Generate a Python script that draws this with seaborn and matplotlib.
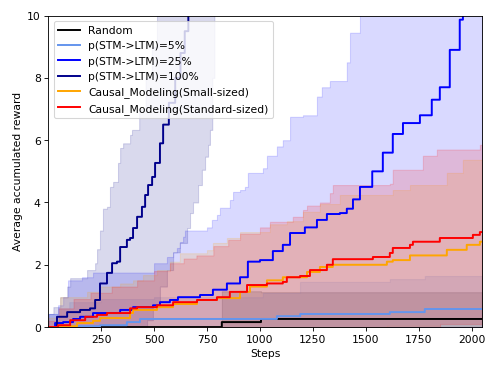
import numpy as np
import pandas as pd
import matplotlib
matplotlib.use("Agg")
import matplotlib.pyplot as plt
import seaborn as sns

# step values (step index, value)
random_x = [1, 820, 1005]
random_mean = [0, 0.16, 0.26]
random_low = [0, 0, 0]
random_up = [0, 1.15, 1.12]

p5_x = [1, 60, 245, 372, 434, 1080, 1190, 1613, 1778]
p5_mean = [0, 0.03, 0.06, 0.16, 0.26, 0.35, 0.42, 0.48, 0.58]
p5_up_x = [1, 47, 100, 250, 500, 906, 1014, 1189, 1613, 1778]
p5_up = [0.42, 0.6, 0.8, 0.9, 0.96, 0.96, 1.1, 1.45, 1.54, 1.64]

p25_x = [1, 33, 71, 118, 151, 212, 340, 401, 495, 528, 575, 613, 717, 778, 844,
         906, 943, 1000, 1061, 1108, 1142, 1212, 1269, 1316, 1377, 1410, 1439,
         1472, 1530, 1580, 1627, 1675, 1755, 1811, 1849, 1896, 1943, 1958]
p25_mean = [0, 0.13, 0.16, 0.26, 0.33, 0.45, 0.55, 0.64, 0.7, 0.8, 0.87, 0.96,
            1.03, 1.2, 1.4, 1.6, 2.1, 2.15, 2.44, 2.64, 3.02, 3.2, 3.44, 3.63,
            3.66, 3.8, 4.1, 4.5, 5.0, 5.6, 6.2, 6.55, 6.8, 7.3, 7.7, 8.9, 9.87, 10.5]
p25_up_x = [1, 47, 71, 94, 160, 212, 500, 561, 590, 608, 622, 637, 646, 750, 773,
            797, 811, 858, 873, 906, 929, 943, 1014, 1033, 1080, 1108, 1142, 1203,
            1269, 1292, 1330, 1410, 1425, 1472]
p25_up = [0.42, 0.7, 0.96, 1.5, 1.6, 1.75, 2.05, 2.25, 2.4, 2.54, 2.73, 2.9, 3.1,
          3.2, 3.44, 3.6, 3.83, 4.08, 4.34, 4.4, 4.5, 4.95, 5.1, 5.5, 5.8, 6.0,
          6.75, 6.8, 7.4, 7.7, 7.9, 8.5, 9.45, 10.5]

p100_x = [1, 42, 90, 151, 198, 222, 245, 278, 302, 325, 340, 372, 387, 401, 420,
          443, 458, 472, 491, 505, 528, 543, 570, 600, 625, 645, 662]
p100_mean = [0, 0.33, 0.48, 0.55, 0.6, 0.87, 1.4, 1.74, 2.05, 2.1, 2.57, 2.8, 2.86,
             3.18, 3.54, 3.86, 4.24, 4.56, 4.82, 5.27, 5.9, 6.5, 7.2, 8.0, 8.8,
             9.5, 10.5]
p100_up_x = [1, 25, 57, 90, 104, 160, 184, 222, 231, 245, 259, 278, 292, 307, 330,
             340, 354, 387, 396, 430, 460, 490, 514]
p100_up = [0.42, 0.64, 0.96, 1.3, 1.57, 1.57, 1.83, 2.05, 2.5, 3.1, 3.8, 3.86, 4.5,
           4.66, 5.27, 5.75, 5.9, 6.17, 6.33, 7.0, 8.0, 9.0, 10.5]
p100_low_x = [1, 434, 467, 495, 528, 561, 590, 622, 656, 670, 684, 708, 726, 741,
              755, 764, 775, 785]
p100_low = [0, 0, 0.22, 0.64, 1.3, 1.83, 2.4, 2.7, 3.18, 3.66, 4.0, 4.56, 5.05,
            5.47, 5.85, 6.33, 8.0, 10.5]

small_x = [1, 57, 137, 212, 245, 387, 401, 514, 590, 703, 797, 906, 953, 1033,
           1108, 1222, 1283, 1344, 1599, 1627, 1708, 1882, 1976, 2038]
small_mean = [0, 0.03, 0.13, 0.2, 0.29, 0.45, 0.55, 0.64, 0.74, 0.87, 0.93, 1.13,
              1.3, 1.5, 1.6, 1.77, 1.93, 2.0, 2.1, 2.15, 2.3, 2.48, 2.64, 2.74]
small_up_x = [1, 57, 184, 245, 340, 401, 448, 514, 575, 622, 750, 778, 844, 906,
              1047, 1127, 1203, 1283, 1377, 1627, 1708, 1882, 1958]
small_up = [0.3, 0.96, 1.13, 1.3, 1.4, 1.5, 1.67, 1.83, 2.1, 2.37, 2.47, 2.7, 2.86,
            3.05, 3.3, 3.4, 3.7, 3.95, 4.24, 4.4, 4.56, 4.95, 5.37]
small_low_x = [1, 1600]
small_low = [0, 0.04]

std_x = [1, 47, 104, 175, 231, 278, 387, 420, 514, 590, 703, 797, 858, 939, 1033,
         1108, 1127, 1189, 1236, 1316, 1344, 1533, 1613, 1627, 1708, 1722, 1849,
         2005, 2038]
std_mean = [0, 0.06, 0.22, 0.33, 0.39, 0.45, 0.6, 0.64, 0.7, 0.8, 0.87, 0.96, 1.13,
            1.35, 1.4, 1.45, 1.6, 1.64, 1.83, 2.0, 2.18, 2.25, 2.38, 2.54, 2.64,
            2.74, 2.86, 2.96, 3.05]
std_up_x = [1, 50, 120, 200, 300, 420, 500, 575, 640, 700, 780, 850, 906, 1000,
            1047, 1155, 1203, 1222, 1283, 1330, 1344, 1613, 1627, 1769, 1835, 2038]
std_up = [0.2, 0.6, 0.9, 1.1, 1.3, 1.5, 1.8, 2.05, 2.2, 2.3, 2.6, 2.8, 3.0, 3.2,
          3.38, 3.54, 3.76, 3.9, 4.0, 4.3, 4.56, 4.6, 5.05, 5.5, 5.7, 5.85]
std_low_x = [1, 1850]
std_low = [0, 0.1]

last_step = 2048


def on_grid(xs, ys, grid):
    # step-post lookup of the read values on a common step grid
    idx = np.searchsorted(np.array(xs), grid, side="right") - 1
    return np.array(ys)[np.clip(idx, 0, None)]


grid = np.arange(1, last_step + 1)
zero = np.zeros(len(grid))

series = [
    ("Random", "black", random_x, random_mean, (random_x, random_low), (random_x, random_up)),
    ("p(STM->LTM)=5%", "cornflowerblue", p5_x, p5_mean, None, (p5_up_x, p5_up)),
    ("p(STM->LTM)=25%", "blue", p25_x, p25_mean, None, (p25_up_x, p25_up)),
    ("p(STM->LTM)=100%", "darkblue", p100_x, p100_mean, (p100_low_x, p100_low), (p100_up_x, p100_up)),
    ("Causal_Modeling(Small-sized)", "orange", small_x, small_mean, (small_low_x, small_low), (small_up_x, small_up)),
    ("Causal_Modeling(Standard-sized)", "red", std_x, std_mean, (std_low_x, std_low), (std_up_x, std_up)),
]

fig, ax = plt.subplots(figsize=(6.4, 4.8), dpi=77.8)

for name, color, xs, ys, low, up in series:
    mean = on_grid(xs, ys, grid)
    lower = zero if low is None else on_grid(low[0], low[1], grid)
    upper = on_grid(up[0], up[1], grid)
    df = pd.DataFrame({"Steps": grid, "reward": mean})
    sns.lineplot(data=df, x="Steps", y="reward", color=color, label=name,
                 drawstyle="steps-post", linewidth=1.8, estimator=None, ax=ax)
    ax.fill_between(grid, lower, upper, step="post", color=color, alpha=0.15)

ax.set_xlim(1, last_step)
ax.set_ylim(0, 10)
ax.set_xlabel("Steps")
ax.set_ylabel("Average accumulated reward")
ax.legend(loc="upper left")

plt.subplots_adjust(left=0.097, right=0.968, top=0.957, bottom=0.123)
plt.savefig("out.png", dpi=77.8)
